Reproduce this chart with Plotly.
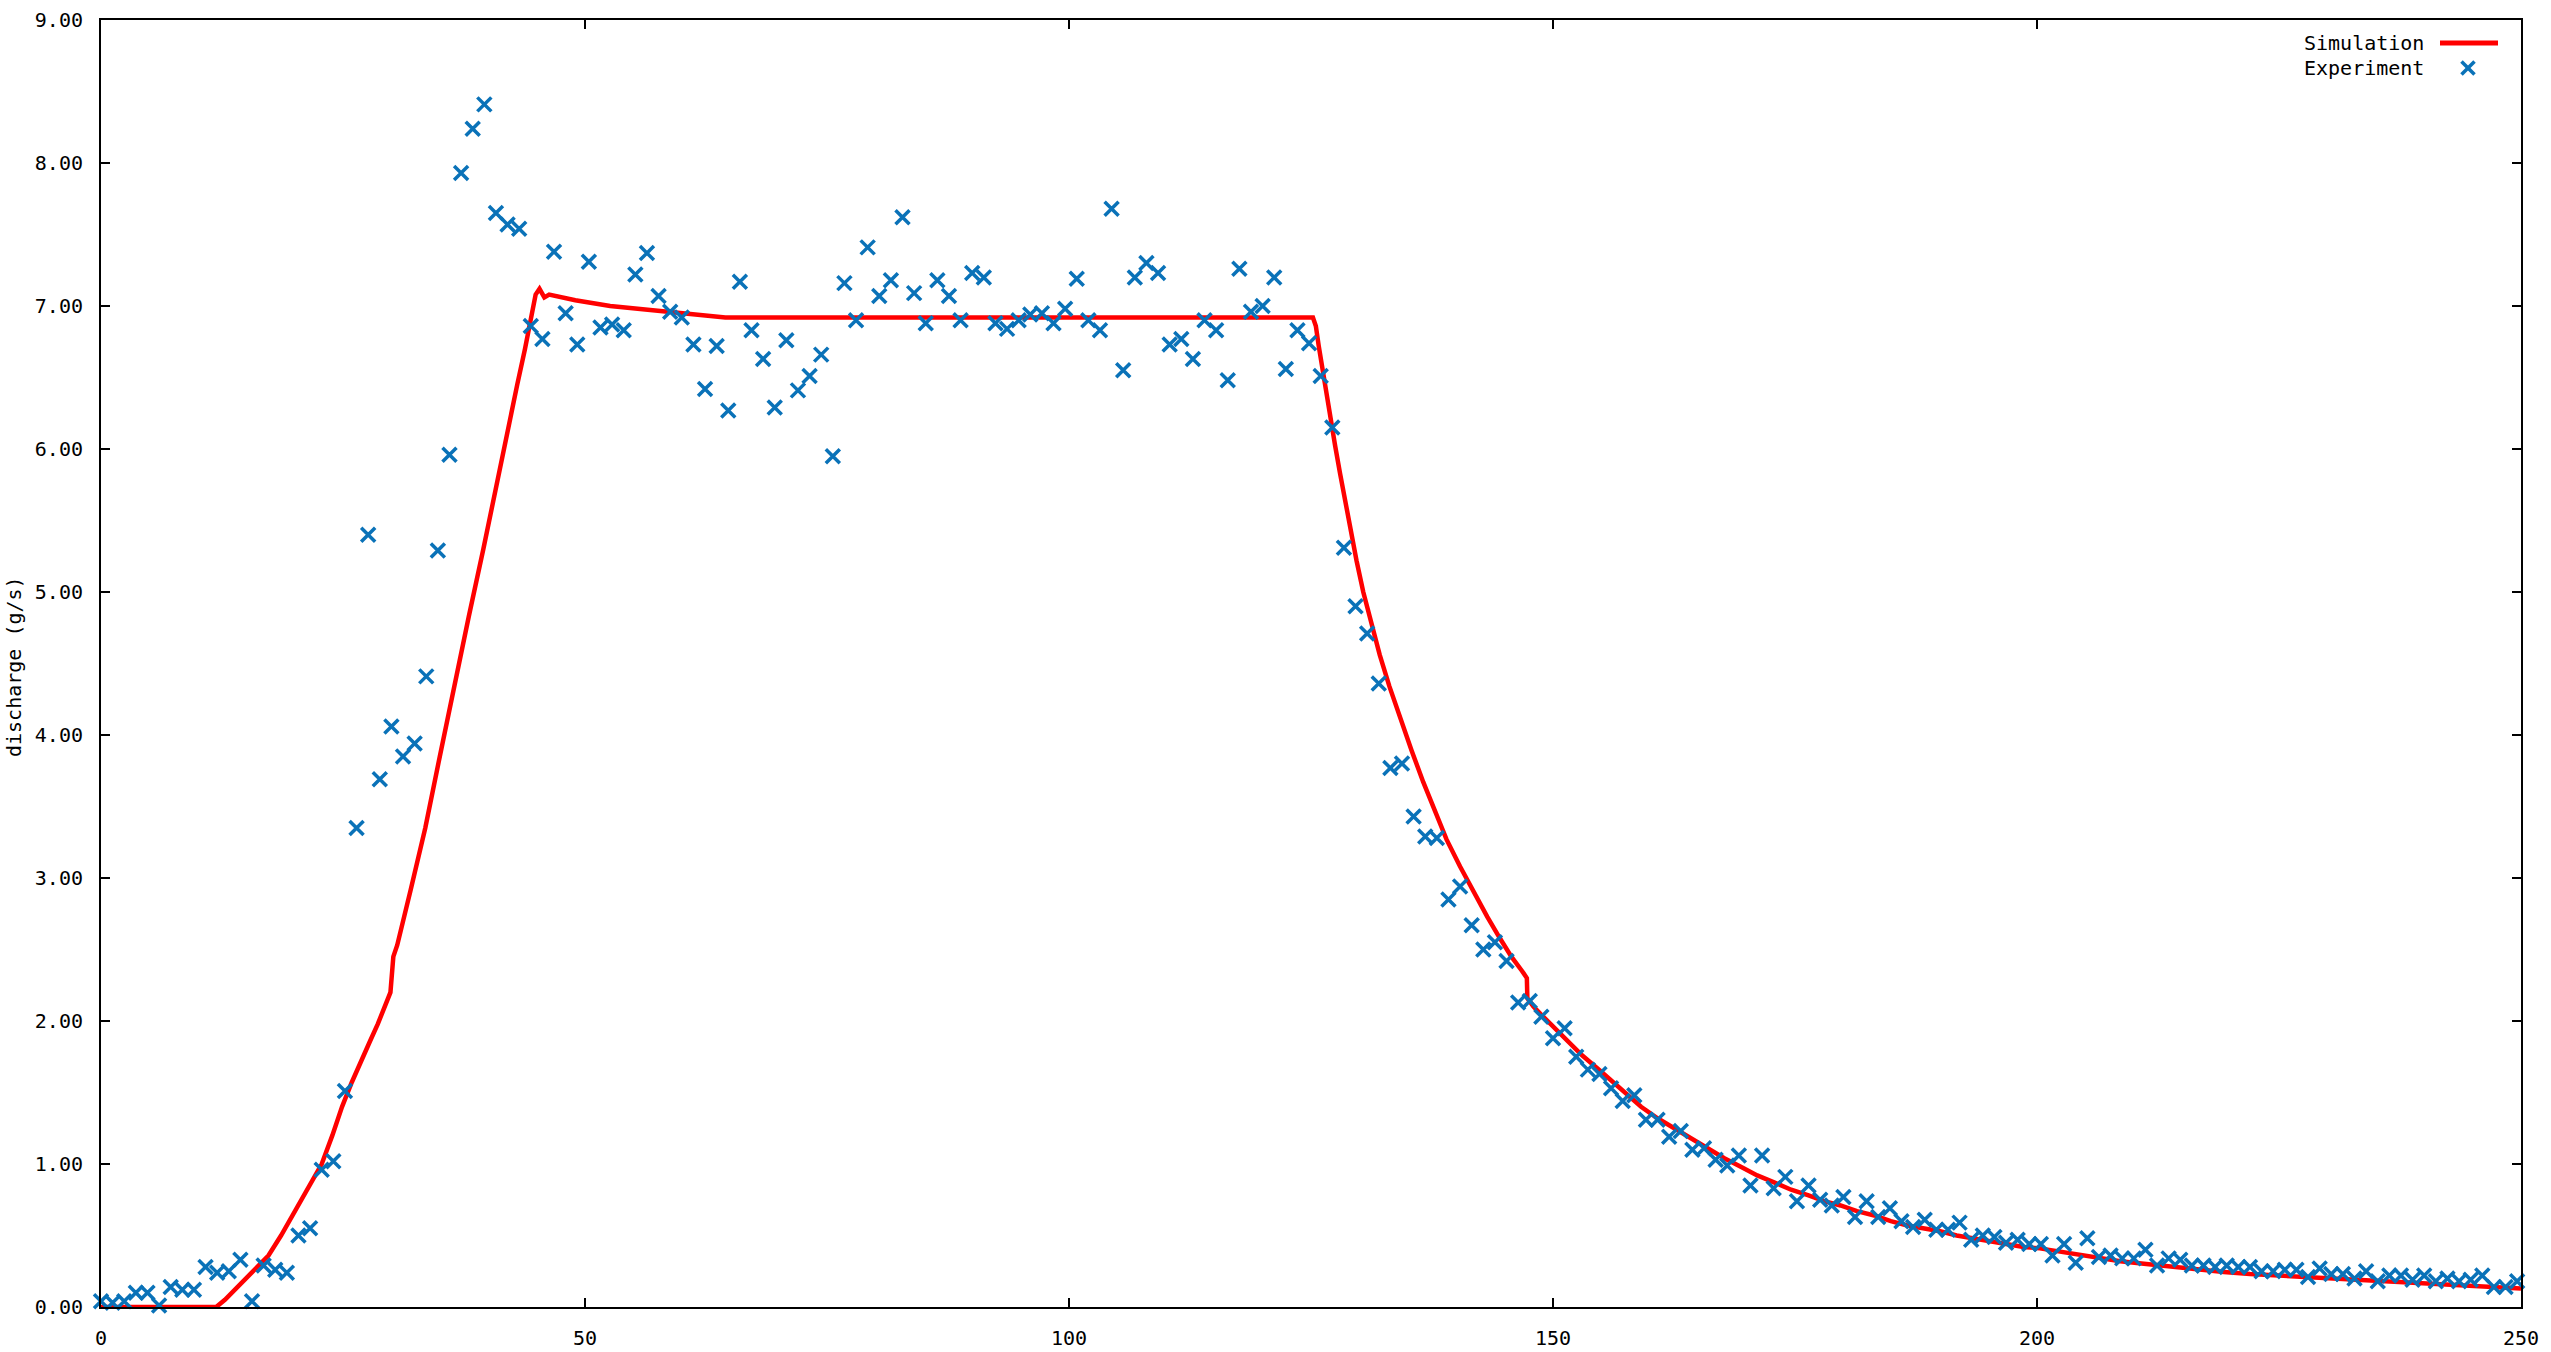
import plotly.graph_objects as go

# ---------------- data ----------------
exp_t = [
    0, 1.2, 2.4, 3.6, 4.8, 6, 7.2, 8.4, 9.6, 10.8,
    12, 13.2, 14.4, 15.6, 16.8, 18, 19.2, 20.4, 21.6, 22.8,
    24, 25.2, 26.4, 27.6, 28.8, 30, 31.2, 32.4, 33.6, 34.8,
    36, 37.2, 38.4, 39.6, 40.8, 42, 43.2, 44.4, 45.6, 46.8,
    48, 49.2, 50.4, 51.6, 52.8, 54, 55.2, 56.4, 57.6, 58.8,
    60, 61.2, 62.4, 63.6, 64.8, 66, 67.2, 68.4, 69.6, 70.8,
    72, 73.2, 74.4, 75.6, 76.8, 78, 79.2, 80.4, 81.6, 82.8,
    84, 85.2, 86.4, 87.6, 88.8, 90, 91.2, 92.4, 93.6, 94.8,
    96, 97.2, 98.4, 99.6, 100.8, 102, 103.2, 104.4, 105.6, 106.8,
    108, 109.2, 110.4, 111.6, 112.8, 114, 115.2, 116.4, 117.6, 118.8,
    120, 121.2, 122.4, 123.6, 124.8, 126, 127.2, 128.4, 129.6, 130.8,
    132, 133.2, 134.4, 135.6, 136.8, 138, 139.2, 140.4, 141.6, 142.8,
    144, 145.2, 146.4, 147.6, 148.8, 150, 151.2, 152.4, 153.6, 154.8,
    156, 157.2, 158.4, 159.6, 160.8, 162, 163.2, 164.4, 165.6, 166.8,
    168, 169.2, 170.4, 171.6, 172.8, 174, 175.2, 176.4, 177.6, 178.8,
    180, 181.2, 182.4, 183.6, 184.8, 186, 187.2, 188.4, 189.6, 190.8,
    192, 193.2, 194.4, 195.6, 196.8, 198, 199.2, 200.4, 201.6, 202.8,
    204, 205.2, 206.4, 207.6, 208.8, 210, 211.2, 212.4, 213.6, 214.8,
    216, 217.2, 218.4, 219.6, 220.8, 222, 223.2, 224.4, 225.6, 226.8,
    228, 229.2, 230.4, 231.6, 232.8, 234, 235.2, 236.4, 237.6, 238.8,
    240, 241.2, 242.4, 243.6, 244.8, 246, 247.2, 248.4, 249.6,
]
exp_q = [
    0.04, 0.03, 0.04, 0.10, 0.10, 0.01, 0.14, 0.12, 0.12, 0.28,
    0.24, 0.25, 0.33, 0.04, 0.29, 0.26, 0.24, 0.50, 0.55, 0.96,
    1.02, 1.51, 3.35, 5.40, 3.69, 4.06, 3.85, 3.94, 4.41, 5.29,
    5.96, 7.93, 8.24, 8.41, 7.65, 7.57, 7.54, 6.86, 6.77, 7.38,
    6.95, 6.73, 7.31, 6.85, 6.87, 6.83, 7.22, 7.37, 7.07, 6.96,
    6.92, 6.73, 6.42, 6.72, 6.27, 7.17, 6.83, 6.63, 6.29, 6.76,
    6.41, 6.51, 6.66, 5.95, 7.16, 6.90, 7.41, 7.07, 7.18, 7.62,
    7.09, 6.88, 7.18, 7.07, 6.90, 7.23, 7.20, 6.88, 6.84, 6.90,
    6.94, 6.95, 6.88, 6.98, 7.19, 6.90, 6.83, 7.68, 6.55, 7.20,
    7.30, 7.23, 6.73, 6.77, 6.63, 6.90, 6.83, 6.48, 7.26, 6.96,
    7.00, 7.20, 6.56, 6.83, 6.74, 6.51, 6.15, 5.31, 4.90, 4.71,
    4.36, 3.77, 3.80, 3.43, 3.29, 3.28, 2.85, 2.94, 2.67, 2.50,
    2.55, 2.42, 2.13, 2.14, 2.03, 1.88, 1.95, 1.75, 1.66, 1.63,
    1.53, 1.44, 1.48, 1.31, 1.31, 1.19, 1.23, 1.10, 1.11, 1.03,
    0.99, 1.06, 0.85, 1.06, 0.83, 0.91, 0.74, 0.85, 0.75, 0.71,
    0.77, 0.63, 0.74, 0.63, 0.69, 0.60, 0.56, 0.61, 0.54, 0.54,
    0.59, 0.47, 0.50, 0.49, 0.45, 0.47, 0.44, 0.44, 0.36, 0.44,
    0.31, 0.48, 0.35, 0.36, 0.34, 0.34, 0.40, 0.29, 0.34, 0.33,
    0.29, 0.29, 0.28, 0.29, 0.28, 0.28, 0.25, 0.25, 0.26, 0.26,
    0.21, 0.27, 0.23, 0.23, 0.20, 0.25, 0.18, 0.22, 0.22, 0.19,
    0.22, 0.18, 0.20, 0.18, 0.19, 0.22, 0.14, 0.14, 0.18,
]

sim_t = [0, 11.9, 12.8, 13.8, 14.9, 16.1, 17.3, 18.6, 20.0, 21.4, 22.8,
         23.9, 24.9, 25.9, 26.9, 27.8, 28.6, 29.3, 29.9,
         30.2, 30.6, 32.0, 33.5, 35.0, 36.5, 38.0, 39.5, 40.8, 42.0,
         43.0, 43.8, 44.5, 44.9, 45.3, 45.8,
         46.3, 49.0, 52.6, 56.7, 60.8, 64.5, 125.2,
         125.5, 125.8, 126.3, 127.0, 127.5, 128.0, 128.5, 129.0, 129.7,
         130.4, 131.2, 132.1, 133.1, 134.2, 135.4, 136.6, 137.8, 139.0,
         140.4, 141.8, 143.2, 144.5, 145.7, 146.8, 147.3, 147.35,
         148.0, 148.7, 150.0, 151.5, 153.0, 154.9, 157.0, 159.1, 160.8,
         162.5, 164.2, 166.0, 167.7, 169.4, 171.1, 172.9, 174.6, 176.4,
         178.0, 179.7, 181.4, 183.2, 184.9, 186.6, 188.3, 190.0, 191.7,
         193.5, 195.2, 196.9, 198.6, 200.3, 203.1, 205.9, 208.6, 211.3,
         214.0, 216.6, 219.3, 222.0, 224.7, 227.4, 230.0, 232.7, 235.4,
         238.1, 240.8, 243.5, 246.7, 250.0]
sim_q = [0, 0, 0.05, 0.12, 0.19, 0.27, 0.36, 0.50, 0.67, 0.83, 1.00,
         1.20, 1.40, 1.57, 1.73, 1.86, 1.98, 2.09, 2.20,
         2.45, 2.53, 2.92, 3.35, 3.85, 4.35, 4.83, 5.30, 5.73, 6.15,
         6.45, 6.70, 6.95, 7.08, 7.12, 7.06,
         7.08, 7.04, 7.00, 6.97, 6.94, 6.92, 6.92,
         6.86, 6.72, 6.50, 6.20, 6.02, 5.83, 5.64, 5.46, 5.22,
         5.00, 4.78, 4.56, 4.34, 4.12, 3.89, 3.67, 3.46, 3.27,
         3.08, 2.90, 2.73, 2.58, 2.45, 2.35, 2.30, 2.16,
         2.10, 2.05, 1.96, 1.86, 1.76, 1.65, 1.52, 1.40, 1.32,
         1.25, 1.18, 1.11, 1.04, 0.98, 0.92, 0.87, 0.82, 0.78,
         0.74, 0.71, 0.67, 0.64, 0.60, 0.57, 0.55, 0.53, 0.50,
         0.48, 0.46, 0.44, 0.42, 0.41, 0.38, 0.35, 0.32, 0.30,
         0.28, 0.26, 0.245, 0.23, 0.22, 0.21, 0.20, 0.19, 0.18,
         0.17, 0.16, 0.15, 0.14, 0.13]

x_ticks = [0, 50, 100, 150, 200, 250]
y_ticks = [0, 1, 2, 3, 4, 5, 6, 7, 8, 9]

RED = "#ff0000"
BLUE = "#0a72b8"
FONT = "DejaVu Sans Mono"

fig = go.Figure()
fig.add_trace(go.Scatter(
    x=sim_t, y=sim_q, mode="lines", name="Simulation",
    line=dict(color=RED, width=4.5, shape="linear"), showlegend=False,
))
fig.add_trace(go.Scatter(
    x=exp_t, y=exp_q, mode="markers", name="Experiment",
    marker=dict(symbol="x-thin", size=14, color=BLUE,
                line=dict(color=BLUE, width=3.5)),
    cliponaxis=False, showlegend=False,
))

W, H = 2551, 1352
L, R, T, B = 101, 30, 20, 45
pw, ph = W - L - R, H - T - B

def px(xp):
    return (xp - L) / pw

def py(yp):
    return (H - B - yp) / ph

axis_common = dict(
    showline=True, linecolor="black", linewidth=2, mirror="ticks",
    ticks="inside", ticklen=9, tickwidth=2, tickcolor="black",
    showgrid=False, zeroline=False, automargin=False,
    tickfont=dict(family=FONT, size=20, color="black"),
)

fig.update_layout(
    width=W, height=H,
    margin=dict(l=L, r=R, t=T, b=B, autoexpand=False),
    paper_bgcolor="white", plot_bgcolor="white",
    xaxis=dict(range=[0, 250], tickvals=x_ticks, ticklabelstandoff=12,
               **axis_common),
    yaxis=dict(range=[0, 9], tickvals=y_ticks, tickformat=".2f",
               ticklabelstandoff=12, **axis_common),
    showlegend=False,
)

# y-axis title
fig.add_annotation(
    text="discharge (g/s)", textangle=-90, xref="paper", yref="paper",
    x=px(14), y=py(667), xanchor="center", yanchor="middle",
    showarrow=False, font=dict(family=FONT, size=20, color="black"),
)

# gnuplot-style key (text left, sample right)
for label, ycen in (("Simulation", 43), ("Experiment", 68)):
    fig.add_annotation(
        text=label, xref="paper", yref="paper", x=px(2426), y=py(ycen),
        xanchor="right", yanchor="middle", showarrow=False,
        font=dict(family=FONT, size=20, color="black"),
    )
fig.add_shape(type="line", xref="paper", yref="paper",
              x0=px(2440), x1=px(2498), y0=py(43), y1=py(43),
              line=dict(color=RED, width=5))
cx, cy, d = 2468, 68, 6.5
fig.add_shape(type="line", xref="paper", yref="paper",
              x0=px(cx - d), x1=px(cx + d), y0=py(cy - d), y1=py(cy + d),
              line=dict(color=BLUE, width=3.5))
fig.add_shape(type="line", xref="paper", yref="paper",
              x0=px(cx - d), x1=px(cx + d), y0=py(cy + d), y1=py(cy - d),
              line=dict(color=BLUE, width=3.5))

fig.write_html("out.html")
